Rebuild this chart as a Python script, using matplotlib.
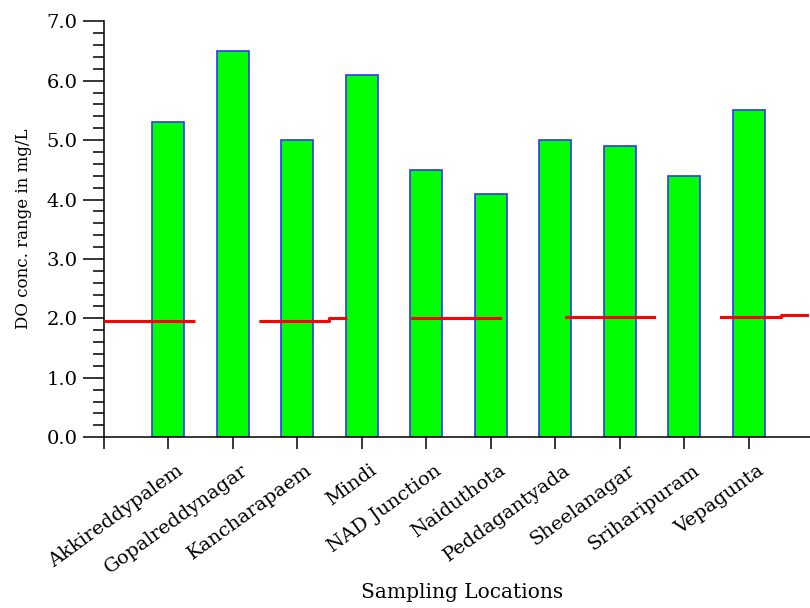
import numpy as np
import matplotlib
matplotlib.use('Agg')
import matplotlib.pyplot as plt
import matplotlib.transforms as mtrans

# DO concentration per sampling location (mg/L)
locations = ['Akkireddypalem', 'Gopalreddynagar', 'Kancharapaem', 'Mindi',
             'NAD Junction', 'Naiduthota', 'Peddagantyada', 'Sheelanagar',
             'Sriharipuram', 'Vepagunta']
do_values = [5.3, 6.5, 5.0, 6.1, 4.5, 4.1, 5.0, 4.9, 4.4, 5.5]

# red reference line (mg/L), one value per category slot 0..11
limit_values = [1.96, 1.96, 1.96, 1.96, 2.0, 2.0, 2.0, 2.03, 2.03, 2.03, 2.03, 2.06]

yticks = [0, 1, 2, 3, 4, 5, 6, 7]

plt.rcParams['font.family'] = 'DejaVu Serif'
plt.rcParams['lines.scale_dashes'] = False

fig = plt.figure(figsize=(8.1, 6.08), dpi=100)
ax = fig.add_axes([0.128, 0.281, 0.872, 0.684])

x = np.arange(1, len(locations) + 1)
ax.bar(x, do_values, width=0.5, color='#00ff00', edgecolor='#3333ff',
       linewidth=1.2, zorder=2)

lx = np.arange(len(limit_values))
ax.plot(lx, limit_values, color='#ff0000', linewidth=2.2,
        drawstyle='steps-mid', dashes=(65.5, 46), zorder=3)

ax.set_xlim(0, 10.95)
ax.set_ylim(0, 7)

ax.spines['top'].set_visible(False)
ax.spines['right'].set_visible(False)
ax.spines['left'].set_linewidth(1.1)
ax.spines['bottom'].set_linewidth(1.1)

ax.set_yticks(yticks)
ax.set_yticklabels(['%.1f' % v for v in yticks], fontsize=14)
ax.set_yticks(np.arange(0, 7.01, 0.2), minor=True)
ax.tick_params(axis='y', which='major', direction='out', length=15, width=1.1, pad=4)
ax.tick_params(axis='y', which='minor', direction='out', length=8, width=1.1)

ax.set_xticks(np.arange(0, len(locations) + 1))
ax.set_xticklabels([''] + locations, fontsize=14, rotation=36,
                   ha='right', va='top', rotation_mode='anchor')
ax.tick_params(axis='x', which='major', direction='out', length=8.5, width=1.1, pad=6)
shift = mtrans.ScaledTranslation(0.08, -0.04, fig.dpi_scale_trans)
for lab in ax.get_xticklabels():
    lab.set_transform(lab.get_transform() + shift)

ax.set_ylabel('DO conc. range in mg/L', fontsize=12)
ax.yaxis.set_label_coords(-0.102, 0.5)
ax.set_xlabel('Sampling Locations', fontsize=14.5)
ax.xaxis.set_label_coords(0.507, -0.35)

fig.savefig('out.png', dpi=100)
